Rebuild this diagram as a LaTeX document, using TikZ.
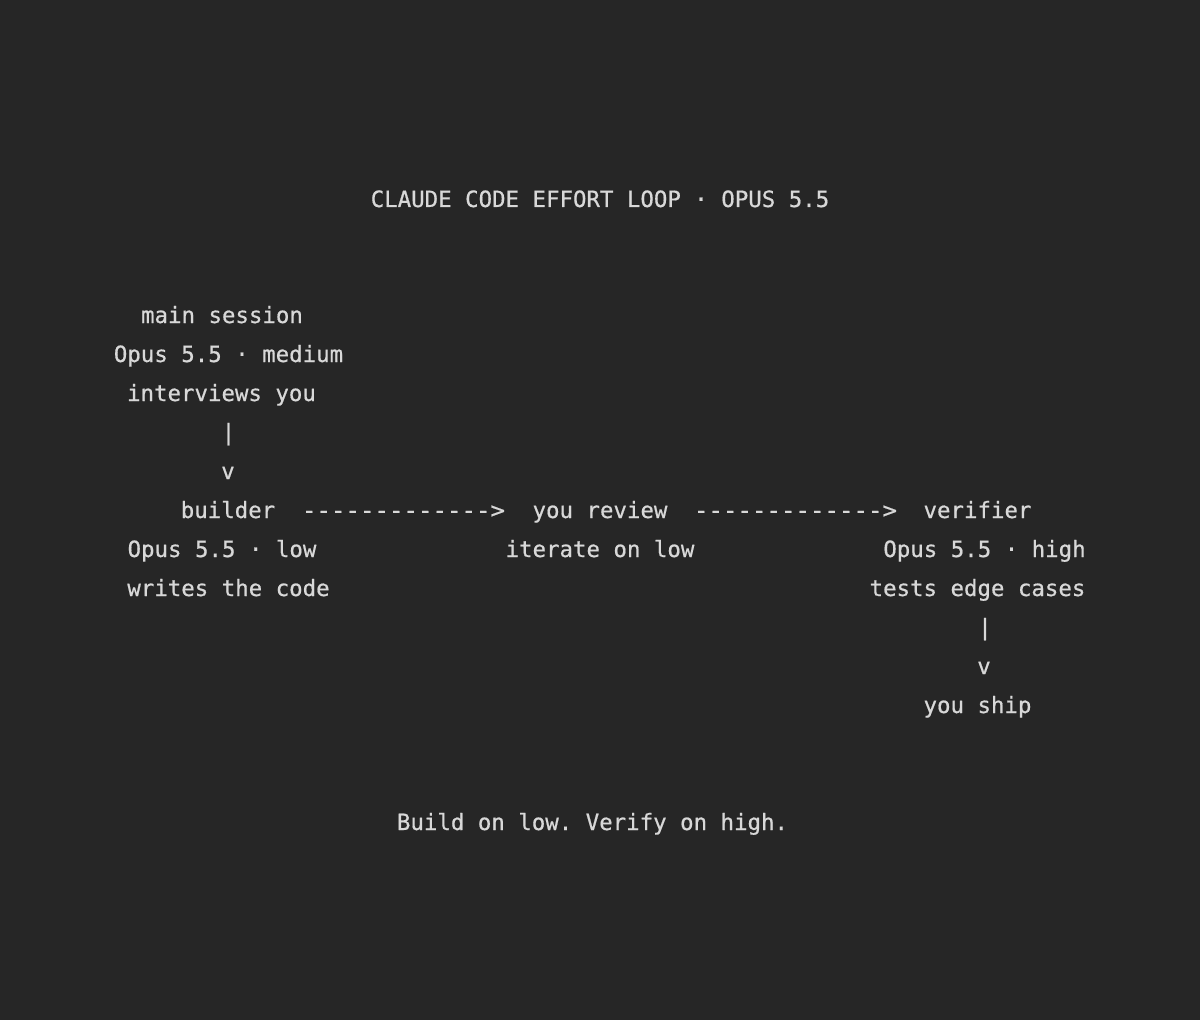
\documentclass[tikz,border=0pt]{standalone}
\usepackage{fontspec}
\setmonofont[FakeBold=0.6]{DejaVu Sans Mono}
\definecolor{bg}{HTML}{262626}
\definecolor{fg}{HTML}{D8D8D8}
\begin{document}
\begin{tikzpicture}[x=0.75pt,y=-0.75pt,
  txt/.style={text=fg,font=\ttfamily\fontsize{16.8pt}{20pt}\selectfont,inner sep=0pt,anchor=base},
  arrowtxt/.style={txt,xscale=1.075}]
\fill[bg] (0,0) rectangle (1200,1020);
\useasboundingbox (0,0) rectangle (1200,1020);
\node[txt] (title) at (600,207) {CLAUDE CODE EFFORT LOOP · OPUS 5.5};
% main session
\node[txt] (ms1) at (222,323) {main session};
\node[txt] (ms2) at (228.5,362) {Opus 5.5 · medium};
\node[txt] (ms3) at (221.5,401) {interviews you};
\node[txt] (bar1) at (228.5,440) {|};
\node[txt] (v1) at (228,479) {v};
% builder row
\node[txt] (b1) at (228,518) {builder};
\node[arrowtxt] (ar1) at (403.5,518) {------------->};
\node[txt] (r1) at (600,518) {you review};
\node[arrowtxt] (ar2) at (795.5,518) {------------->};
\node[txt] (vf1) at (977.5,518) {verifier};
\node[txt] (b2) at (222,557) {Opus 5.5 · low};
\node[txt] (r2) at (600,557) {iterate on low};
\node[txt] (vf2) at (984.5,557) {Opus 5.5 · high};
\node[txt] (b3) at (228.5,596) {writes the code};
\node[txt] (vf3) at (977.5,596) {tests edge cases};
\node[txt] (bar2) at (985,635) {|};
\node[txt] (v2) at (984,674) {v};
\node[txt] (ship) at (977.5,713) {you ship};
\node[txt] (foot) at (592.5,830) {Build on low. Verify on high.};
\end{tikzpicture}
\end{document}
